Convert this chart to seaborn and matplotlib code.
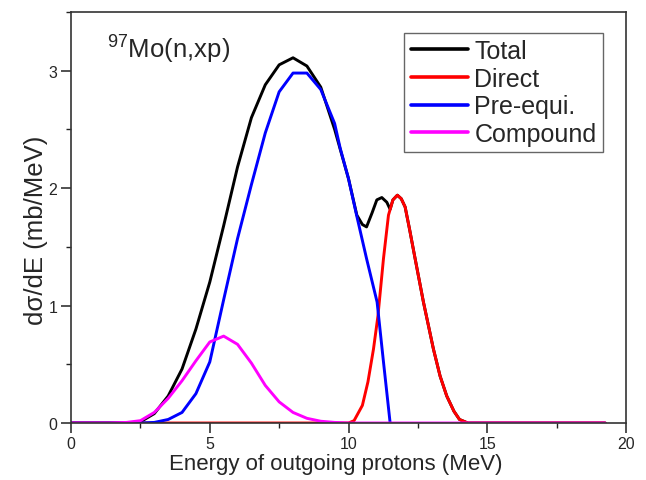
import matplotlib
matplotlib.use("Agg")
import matplotlib.pyplot as plt
import seaborn as sns
import pandas as pd
from matplotlib.ticker import MultipleLocator

# ---- data ----
total_e = [0.0, 2.0, 2.5, 3.0, 3.5, 4.0, 4.5, 5.0, 5.5, 6.0, 6.5, 7.0, 7.5, 8.0,
           8.5, 9.0, 9.5, 10.0, 10.3, 10.5, 10.65, 10.85, 11.02, 11.2, 11.38, 11.5,
           11.6, 11.76, 11.9, 12.04, 12.2, 12.4, 12.7, 13.06, 13.3, 13.54, 13.8,
           14.0, 14.3, 19.25]
total_v = [0.0, 0.0, 0.01, 0.08, 0.23, 0.46, 0.8, 1.2, 1.68, 2.18, 2.6, 2.88, 3.05, 3.11,
           3.04, 2.86, 2.5, 2.08, 1.77, 1.69, 1.67, 1.79, 1.90, 1.92, 1.88, 1.82,
           1.9, 1.94, 1.91, 1.84, 1.65, 1.40, 1.03, 0.63, 0.4, 0.23, 0.1,
           0.03, 0.0, 0.0]

direct_e = [0.0, 10.0, 10.2, 10.5, 10.7, 10.9, 11.06, 11.26, 11.44, 11.6, 11.76,
            11.9, 12.04, 12.2, 12.4, 12.7, 13.06, 13.3, 13.54, 13.8, 14.0, 14.3, 19.25]
direct_v = [0.0, 0.0, 0.02, 0.15, 0.35, 0.63, 0.91, 1.40, 1.77, 1.9, 1.94,
            1.91, 1.84, 1.65, 1.40, 1.03, 0.63, 0.4, 0.23, 0.1, 0.03, 0.0, 0.0]

preeq_e = [0.0, 2.5, 3.0, 3.5, 4.0, 4.5, 5.0, 5.5, 6.0, 6.5, 7.0, 7.5, 8.0, 8.5,
           9.0, 9.5, 9.7, 10.0, 10.3, 10.65, 11.03, 11.26, 11.5]
preeq_v = [0.0, 0.0, 0.005, 0.03, 0.09, 0.25, 0.52, 1.05, 1.57, 2.03, 2.47, 2.82, 2.98, 2.98,
           2.84, 2.55, 2.34, 2.08, 1.76, 1.40, 1.03, 0.52, 0.0]

comp_e = [0.0, 1.4, 2.0, 2.5, 3.0, 3.5, 4.0, 4.5, 5.0, 5.5, 6.0, 6.5, 7.0, 7.5,
          8.0, 8.5, 9.0, 9.5, 10.0, 19.25]
comp_v = [0.0, 0.0, 0.005, 0.02, 0.09, 0.21, 0.36, 0.53, 0.69, 0.74, 0.67, 0.51, 0.32, 0.18,
          0.09, 0.04, 0.015, 0.005, 0.0, 0.0]

series_names = ["Total", "Direct", "Pre-equi.", "Compound"]
series_colors = ["#000000", "#ff0000", "#0000ff", "#ff00ff"]

x_label = "Energy of outgoing protons (MeV)"
y_label = "d\u03c3/dE (mb/MeV)"
title_text = r"$^{97}$Mo(n,xp)"

# ---- plot ----
sns.set_style("ticks")
plt.rcParams["font.family"] = ["Liberation Sans", "DejaVu Sans"]
plt.rcParams["mathtext.fontset"] = "custom"
plt.rcParams["mathtext.rm"] = "Liberation Sans"
plt.rcParams["mathtext.it"] = "Liberation Sans:italic"

fig = plt.figure(figsize=(6.46, 4.81), dpi=100)
ax = fig.add_axes([0.110, 0.1185, 0.859, 0.8545])

datasets = [(total_e, total_v), (direct_e, direct_v), (preeq_e, preeq_v), (comp_e, comp_v)]
for (e, v), name, col in zip(datasets, series_names, series_colors):
    df = pd.DataFrame({"E": e, "v": v})
    sns.lineplot(data=df, x="E", y="v", ax=ax, color=col, lw=2.1, label=name,
                 estimator=None, sort=False)

ax.set_xlim(0, 20)
ax.set_ylim(0, 3.5)
ax.xaxis.set_major_locator(MultipleLocator(5))
ax.xaxis.set_minor_locator(MultipleLocator(2.5))
ax.yaxis.set_major_locator(MultipleLocator(1))
ax.yaxis.set_minor_locator(MultipleLocator(0.5))
ax.set_yticks([0, 1, 2, 3])
ax.tick_params(which="major", direction="out", length=7, width=1.1, labelsize=11.5,
               color="#222222", pad=3)
ax.tick_params(axis="x", which="major", pad=2)
ax.tick_params(which="minor", direction="out", length=3.5, width=1.0, color="#222222")
for s in ax.spines.values():
    s.set_color("#333333")
    s.set_linewidth(1.2)
    s.set_visible(True)

ax.set_xlabel(x_label, fontsize=16)
ax.set_ylabel(y_label, fontsize=18.5)
ax.xaxis.set_label_coords(0.477, -0.072)
ax.yaxis.set_label_coords(-0.042, 0.472)

ax.text(0.065, 0.89, title_text, transform=ax.transAxes, fontsize=18.5,
        ha="left", va="baseline")

leg = ax.legend(loc="upper right", bbox_to_anchor=(0.958, 0.95), fontsize=18,
                frameon=True, fancybox=False, framealpha=1, edgecolor="#666666",
                handlelength=2.3, handletextpad=0.25, labelspacing=0.15,
                borderpad=0.25, borderaxespad=0)
leg.get_frame().set_linewidth(1.0)
for line in leg.get_lines():
    line.set_linewidth(2.6)

fig.savefig("out.png", dpi=100)
